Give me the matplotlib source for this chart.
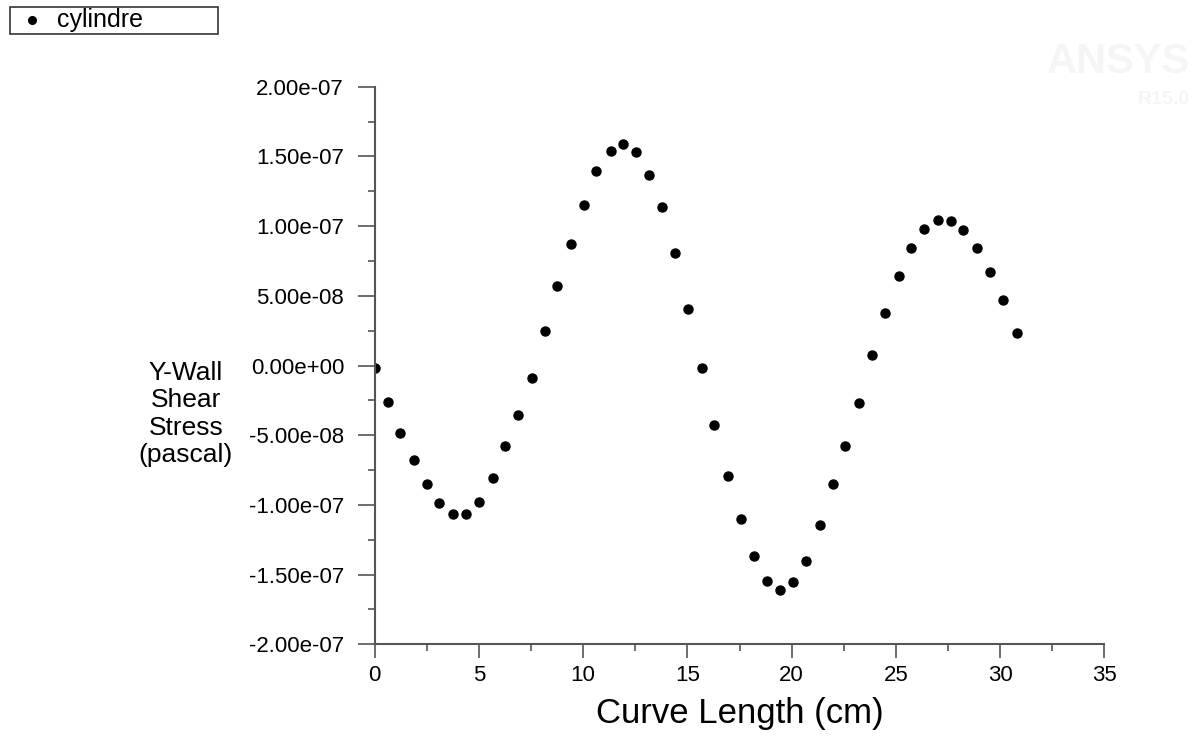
import matplotlib.pyplot as plt
from matplotlib.ticker import FormatStrFormatter, MultipleLocator
from matplotlib.patches import Rectangle
from matplotlib.lines import Line2D

plt.rcParams['font.family'] = ['Liberation Sans', 'DejaVu Sans']

# Abscisse curviligne (cm) et contrainte de cisaillement Y (Pa)
curve_length = [0.00, 0.62, 1.21, 1.90, 2.49, 3.10, 3.77, 4.38, 5.00, 5.66,
                6.26, 6.87, 7.53, 8.15, 8.74, 9.43, 10.04, 10.63, 11.32, 11.92,
                12.53, 13.14, 13.79, 14.42, 15.03, 15.70, 16.29, 16.93, 17.57, 18.20,
                18.80, 19.45, 20.08, 20.69, 21.36, 21.97, 22.57, 23.24, 23.85, 24.46,
                25.13, 25.72, 26.34, 27.00, 27.63, 28.23, 28.90, 29.51, 30.12, 30.79]
shear = [-0.019, -0.263, -0.482, -0.680, -0.852, -0.989, -1.062, -1.062, -0.979, -0.807,
         -0.580, -0.353, -0.091, 0.246, 0.573, 0.872, 1.153, 1.399, 1.542, 1.588,
         1.533, 1.368, 1.134, 0.807, 0.408, -0.019, -0.428, -0.790, -1.098, -1.370,
         -1.545, -1.610, -1.552, -1.399, -1.144, -0.852, -0.580, -0.272, 0.072, 0.380,
         0.645, 0.845, 0.979, 1.043, 1.034, 0.969, 0.845, 0.671, 0.473, 0.234]
shear = [v * 1e-7 for v in shear]

serie_nom = "cylindre"

fig = plt.figure(figsize=(11.97, 7.47), dpi=100)
ax = fig.add_axes([0.3130, 0.1375, 0.6096, 0.7464])

ax.plot(curve_length, shear, linestyle='none', marker='o', markersize=6.5,
        color='black')

ax.set_xlim(0, 35)
ax.set_ylim(-2e-7, 2e-7)

ax.xaxis.set_major_locator(MultipleLocator(5))
ax.xaxis.set_minor_locator(MultipleLocator(2.5))
ax.yaxis.set_major_locator(MultipleLocator(5e-8))
ax.yaxis.set_minor_locator(MultipleLocator(2.5e-8))
ax.yaxis.set_major_formatter(FormatStrFormatter('%.2e'))

for s in ['top', 'right']:
    ax.spines[s].set_visible(False)
for s in ['left', 'bottom']:
    ax.spines[s].set_color('#555555')
    ax.spines[s].set_linewidth(1.5)

ax.tick_params(axis='y', which='major', direction='out', length=12, width=1.2,
               color='#555555', labelsize=16, pad=10)
ax.tick_params(axis='y', which='minor', direction='out', length=5, width=1.2,
               color='#555555')
ax.tick_params(axis='x', which='major', direction='out', length=10, width=1.2,
               color='#555555', labelsize=16, pad=5)
ax.tick_params(axis='x', which='minor', direction='out', length=5, width=1.2,
               color='#555555')

ax.set_xlabel("Curve Length (cm)", fontsize=25, labelpad=8)

# Titre de l'axe Y, horizontal, à gauche
fig.text(186 / 1197, 1 - 414 / 747, "Y-Wall\nShear\nStress\n(pascal)",
         fontsize=19, ha='center', va='center', multialignment='center',
         linespacing=1.17)

# Légende encadrée en haut à gauche
fig.patches.append(Rectangle((10 / 1197, 1 - 34 / 747), 208 / 1197, 27 / 747,
                             transform=fig.transFigure, fill=False,
                             edgecolor='#333333', linewidth=1.2))
fig.lines.append(Line2D([32 / 1197], [1 - 20 / 747], transform=fig.transFigure,
                        marker='o', markersize=5.5, color='black', linestyle='none'))
fig.text(57 / 1197, 1 - 20 / 747, serie_nom, fontsize=18, ha='left', va='center')

# Filigrane ANSYS presque invisible
fig.text(1190 / 1197, 1 - 62 / 747, "ANSYS", fontsize=30, ha='right', va='center',
         color='#f5f5f5', fontweight='bold')
fig.text(1190 / 1197, 1 - 100 / 747, "R15.0", fontsize=14, ha='right', va='center',
         color='#f5f5f5', fontweight='bold')

fig.savefig("out.png", dpi=100)
